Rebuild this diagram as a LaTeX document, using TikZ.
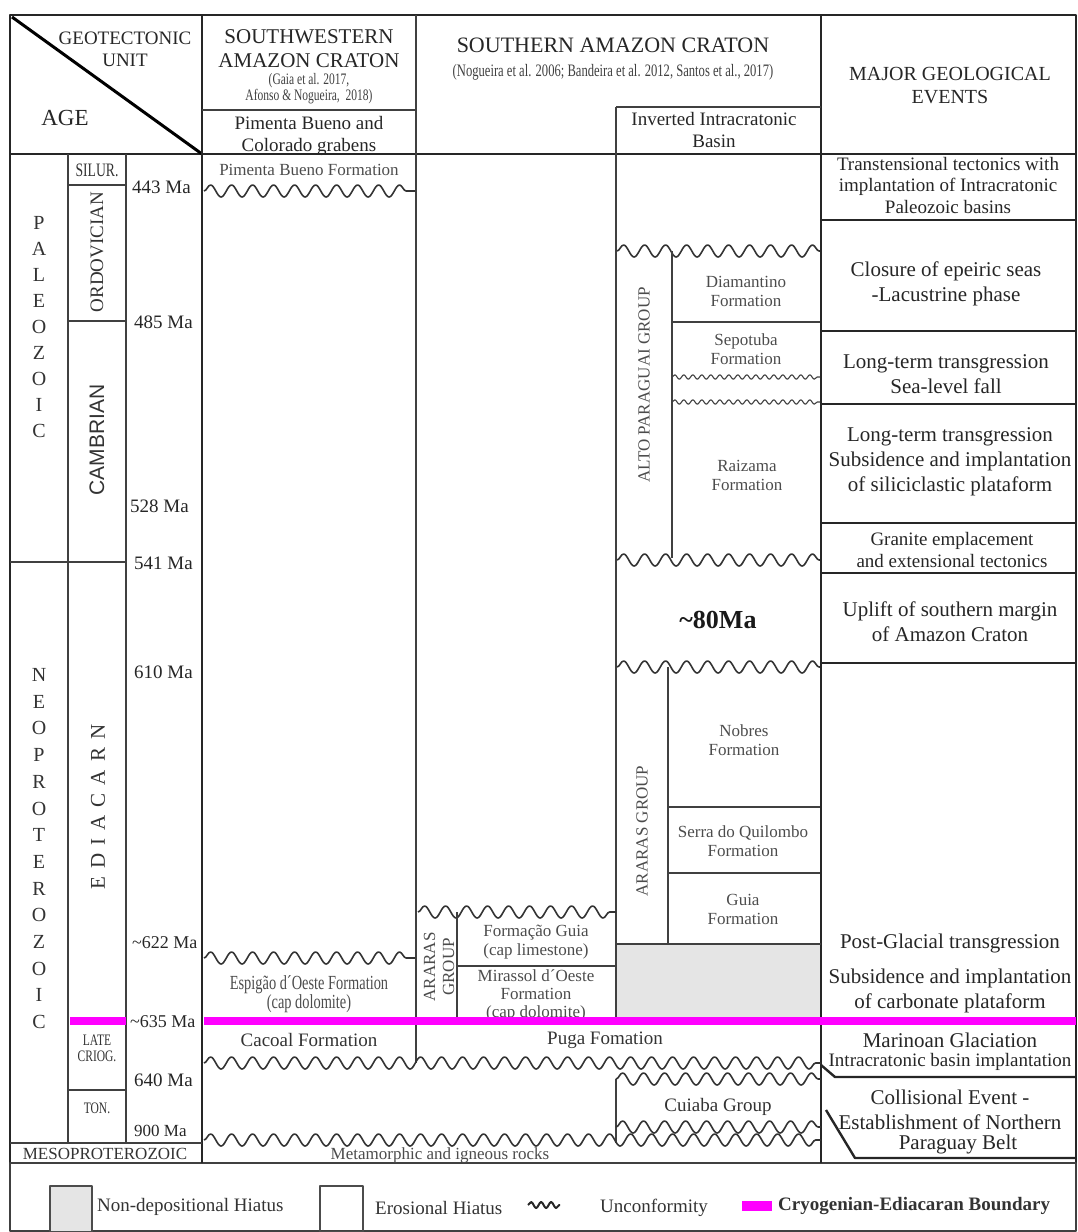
\documentclass[tikz,border=0pt]{standalone}
\usepackage{fontspec}
\setmainfont{Liberation Serif}
\setsansfont{Liberation Sans}
\newfontfamily\narrowfont[FakeStretch=0.72]{Liberation Serif}
\usetikzlibrary{decorations.pathmorphing}
\definecolor{bnd}{RGB}{255,0,255}

\begin{document}
\begin{tikzpicture}[x=1pt, y=-1pt, line join=round,
    frame/.style = {line width=2.4pt, black!85},
    rule/.style = {line width=1.4pt, black!75},
    bound/.style = {line width=8pt, bnd},
    wave/.style = {line width=1.6pt, black!80, decorate,
        decoration={snake, segment length=21pt, amplitude=6pt}},
    ripple/.style = {line width=1.1pt, black!75, decorate,
        decoration={snake, segment length=9pt, amplitude=2.2pt}},
    head/.style = {align=center, inner sep=0pt, text=black!85, font=\fontsize{21}{24}\selectfont},
    cite/.style = {align=center, inner sep=0pt, text=black!75, font=\narrowfont\fontsize{17.5}{16}\selectfont},
    unit/.style = {align=center, inner sep=0pt, text=black!70, font=\fontsize{17}{19}\selectfont},
    event/.style = {align=center, inner sep=0pt, text=black!85, font=\fontsize{21}{25}\selectfont},
    small/.style = {align=center, inner sep=0pt, text=black!85, font=\fontsize{19}{21.5}\selectfont},
    age/.style = {anchor=west, inner sep=0pt, text=black!85, font=\fontsize{19}{21}\selectfont},
    era/.style = {inner sep=0pt, text=black!80, font=\fontsize{20}{22}\selectfont},
    period/.style = {align=center, inner sep=0pt, text=black!80, font=\narrowfont\fontsize{19}{16}\selectfont},
    legend/.style = {anchor=west, inner sep=0pt, text=black!80, font=\fontsize{19}{21}\selectfont}]
    \useasboundingbox (0,0) rectangle (1078,1232);

    %Frame and main columns
    \draw[frame] (10,15) rectangle (1076,1163);
    \draw[rule] (10,1163) rectangle (1076,1231);
    \draw[frame] (10,154) -- (1076,154);
    \draw[line width=3pt] (12,17) -- (202,154);
    \draw[frame] (202,15) -- (202,1163);
    \draw[rule] (416,15) -- (416,1063);
    \draw[frame] (821,15) -- (821,1163);
    \draw[rule] (202,110) -- (416,110);
    \draw[rule] (616,107) -- (821,107);
    \draw[rule] (616,107) -- (616,1018);

    %Header texts
    \node[head, font=\fontsize{19}{22}\selectfont] (geo) at (125,49) {GEOTECTONIC\\UNIT};
    \node[head, font=\fontsize{23}{25}\selectfont] (age) at (65,118) {AGE};
    \node[head, font=\fontsize{21}{24}\selectfont] (sw) at (309,49) {SOUTHWESTERN\\AMAZON CRATON};
    \node[cite, font=\narrowfont\fontsize{16}{16}\selectfont] (swref) at (309,89) {(Gaia et al. 2017,\\Afonso \& Nogueira,\ \ 2018)};
    \node[small] (graben) at (309,136) {Pimenta Bueno and\\Colorado grabens};
    \node[head, font=\fontsize{22}{24}\selectfont] (sth) at (613,45) {SOUTHERN AMAZON CRATON};
    \node[cite] (sthref) at (613,72) {(Nogueira et al. 2006; Bandeira et al. 2012, Santos et al., 2017)};
    \node[small] (inv) at (714,130) {Inverted Intracratonic\\Basin};
    \node[head, font=\fontsize{20}{23}\selectfont] (major) at (950,86) {MAJOR GEOLOGICAL\\EVENTS};

    %Time scale
    \draw[rule] (68,154) -- (68,1143);
    \draw[rule] (126,154) -- (126,1143);
    \draw[rule] (68,185) -- (126,185);
    \draw[rule] (68,321) -- (126,321);
    \draw[rule] (10,562) -- (126,562);
    \draw[rule] (68,1090) -- (126,1090);
    \draw[rule] (10,1143) -- (202,1143);
    \foreach \l [count=\i from 0] in {P,A,L,E,O,Z,O,I,C}
        \node[era] (pal\i) at (39,{223+26*\i}) {\l};
    \foreach \l [count=\i from 0] in {N,E,O,P,R,O,T,E,R,O,Z,O,I,C}
        \node[era] (neo\i) at (39,{675+26.7*\i}) {\l};
    \node[period] (silur) at (97,170) {SILUR.};
    \node[period, rotate=90, font=\fontsize{19}{21}\selectfont] (ordo) at (97,252) {ORDOVICIAN};
    \node[period, rotate=90, font=\sffamily\fontsize{21}{23}\selectfont] (camb) at (97,440) {CAMBRIAN};
    \node[period, rotate=90, font=\fontsize{21}{23}\selectfont] (edia) at (98,807)
        {E\kern8pt D\kern8pt I\kern8pt A\kern8pt C\kern8pt A\kern8pt R\kern8pt N};
    \node[period, font=\narrowfont\fontsize{16}{16}\selectfont] (crio) at (97,1048) {LATE\\CRIOG.};
    \node[period, font=\narrowfont\fontsize{16}{16}\selectfont] (ton) at (97,1108) {TON.};
    \node[period, font=\fontsize{17}{19}\selectfont] (meso) at (105,1154) {MESOPROTEROZOIC};
    \node[age] (a443) at (132,187) {443 Ma};
    \node[age] (a485) at (134,322) {485 Ma};
    \node[age] (a528) at (130,506) {528 Ma};
    \node[age] (a541) at (134,563) {541 Ma};
    \node[age] (a610) at (134,672) {610 Ma};
    \node[age, font=\fontsize{18}{20}\selectfont] (a622) at (132,943) {\textasciitilde 622 Ma};
    \node[age, font=\fontsize{18}{20}\selectfont] (a635) at (130,1022) {\textasciitilde 635 Ma};
    \node[age] (a640) at (134,1080) {640 Ma};
    \node[age, font=\fontsize{17}{19}\selectfont] (a900) at (134,1131) {900 Ma};

    %Southwestern Amazon Craton
    \node[unit] (pbf) at (309,170) {Pimenta Bueno Formation};
    \draw[wave] (204,191) -- (415,191);
    \draw[wave] (204,958) -- (415,958);
    \node[unit, font=\narrowfont\fontsize{20}{19}\selectfont] (esp) at (309,994) {Espigão d´Oeste Formation\\(cap dolomite)};
    \node[unit, text=black!80, font=\fontsize{19}{21}\selectfont] (cac) at (309,1040) {Cacoal Formation};

    %Southern Amazon Craton - Araras group (left)
    \draw[wave] (418,912) -- (616,912);
    \draw[rule] (457,912) -- (457,1018);
    \draw[rule] (457,966) -- (616,966);
    \node[unit, rotate=90] (ara1) at (439,967) {ARARAS\\GROUP};
    \node[unit] (fgu) at (536,942) {Formação Guia\\(cap limestone)};
    \node[unit, font=\fontsize{17}{18}\selectfont] (mir) at (536,995) {Mirassol d´Oeste\\Formation\\(cap dolomite)};

    %Alto Paraguai group
    \draw[wave] (617,251) -- (820,251);
    \draw[rule] (672,251) -- (672,558);
    \draw[rule] (672,322) -- (820,322);
    \draw[ripple] (672,377) -- (820,377);
    \draw[ripple] (672,402) -- (820,402);
    \draw[wave] (617,560) -- (820,560);
    \node[unit, rotate=90] (alto) at (644,385) {ALTO PARAGUAI GROUP};
    \node[unit] (dia) at (746,291) {Diamantino\\Formation};
    \node[unit] (sep) at (746,349) {Sepotuba\\Formation};
    \node[unit] (rai) at (747,475) {Raizama\\Formation};
    \node[inner sep=0pt, text=black!90, font=\bfseries\fontsize{26}{28}\selectfont] (gap) at (718,620) {\textasciitilde 80Ma};

    %Araras group (right)
    \draw[wave] (617,667) -- (820,667);
    \draw[rule] (668,667) -- (668,944);
    \draw[rule] (668,807) -- (820,807);
    \draw[rule] (668,873) -- (820,873);
    \fill[gray!20] (617,944) rectangle (820,1017);
    \draw[rule] (616,944) -- (821,944);
    \node[unit, rotate=90] (ara2) at (642,831) {ARARAS GROUP};
    \node[unit] (nob) at (744,740) {Nobres\\Formation};
    \node[unit] (ser) at (743,841) {Serra do Quilombo\\Formation};
    \node[unit] (gui) at (743,909) {Guia\\Formation};

    %Cryogenian and basement
    \node[unit, text=black!80, font=\fontsize{19}{21}\selectfont] (pug) at (605,1040) {Puga Fomation};
    \draw[wave] (204,1063) -- (821,1063);
    \draw[rule] (616,1143) -- (616,1079);
    \draw[wave] (616,1079) -- (821,1079);
    \node[unit, text=black!80, font=\fontsize{19}{21}\selectfont] (cui) at (718,1107) {Cuiaba Group};
    \draw[wave] (616,1127) -- (821,1127);
    \draw[wave] (204,1140) -- (821,1140);
    \node[unit, font=\fontsize{17}{19}\selectfont] (meta) at (440,1155) {Metamorphic and igneous rocks};

    %Boundary
    \draw[bound] (70,1021) -- (126,1021);
    \draw[bound] (204,1021) -- (1076,1021);

    %Major geological events
    \draw[frame] (821,220) -- (1076,220);
    \draw[frame] (821,331) -- (1076,331);
    \draw[frame] (821,404) -- (1076,404);
    \draw[frame] (821,523) -- (1076,523);
    \draw[frame] (821,573) -- (1076,573);
    \draw[frame] (821,663) -- (1076,663);
    \draw[frame] (821,1065) -- (835,1077) -- (1076,1077);
    \draw[frame] (826,1110) -- (855,1158) -- (1076,1158);
    \node[small] (ev1) at (948,185) {Transtensional tectonics with\\implantation of Intracratonic\\Paleozoic basins};
    \node[event] (ev2) at (946,284) {Closure of epeiric seas\\-Lacustrine phase};
    \node[event] (ev3) at (946,374) {Long-term transgression\\Sea-level fall};
    \node[event] (ev4) at (950,462) {Long-term transgression\\Subsidence and implantation\\of siliciclastic plataform};
    \node[small] (ev5) at (952,550) {Granite emplacement\\and extensional tectonics};
    \node[event] (ev6) at (950,622) {Uplift of southern margin\\of Amazon Craton};
    \node[event] (ev7) at (950,943) {Post-Glacial transgression};
    \node[event] (ev8) at (950,991) {Subsidence and implantation\\of carbonate plataform};
    \node[event] (ev9) at (950,1040) {Marinoan Glaciation};
    \node[small] (ev10) at (950,1062) {Intracratonic basin implantation};
    \node[event] (ev11) at (950,1110) {Collisional Event -\\Establishment of Northern};
    \node[event] (ev12) at (958,1144) {Paraguay Belt};

    %Legend
    \filldraw[fill=gray!20, draw=black!70, line width=1.4pt] (50,1186) rectangle (92,1232);
    \node[legend] (lg1) at (97,1207) {Non-depositional Hiatus};
    \draw[black!70, line width=1.4pt] (320,1186) rectangle (363,1232);
    \node[legend] (lg2) at (375,1208) {Erosional Hiatus};
    \draw[line width=2pt, black!85, decorate, decoration={snake, segment length=10pt, amplitude=3pt}] (528,1205) -- (560,1205);
    \node[legend] (lg3) at (600,1208) {Unconformity};
    \fill[bnd] (742,1201) rectangle (772,1211);
    \node[legend, font=\bfseries\fontsize{19}{21}\selectfont] (lg4) at (778,1206) {Cryogenian-Ediacaran Boundary};
\end{tikzpicture}
\end{document}
